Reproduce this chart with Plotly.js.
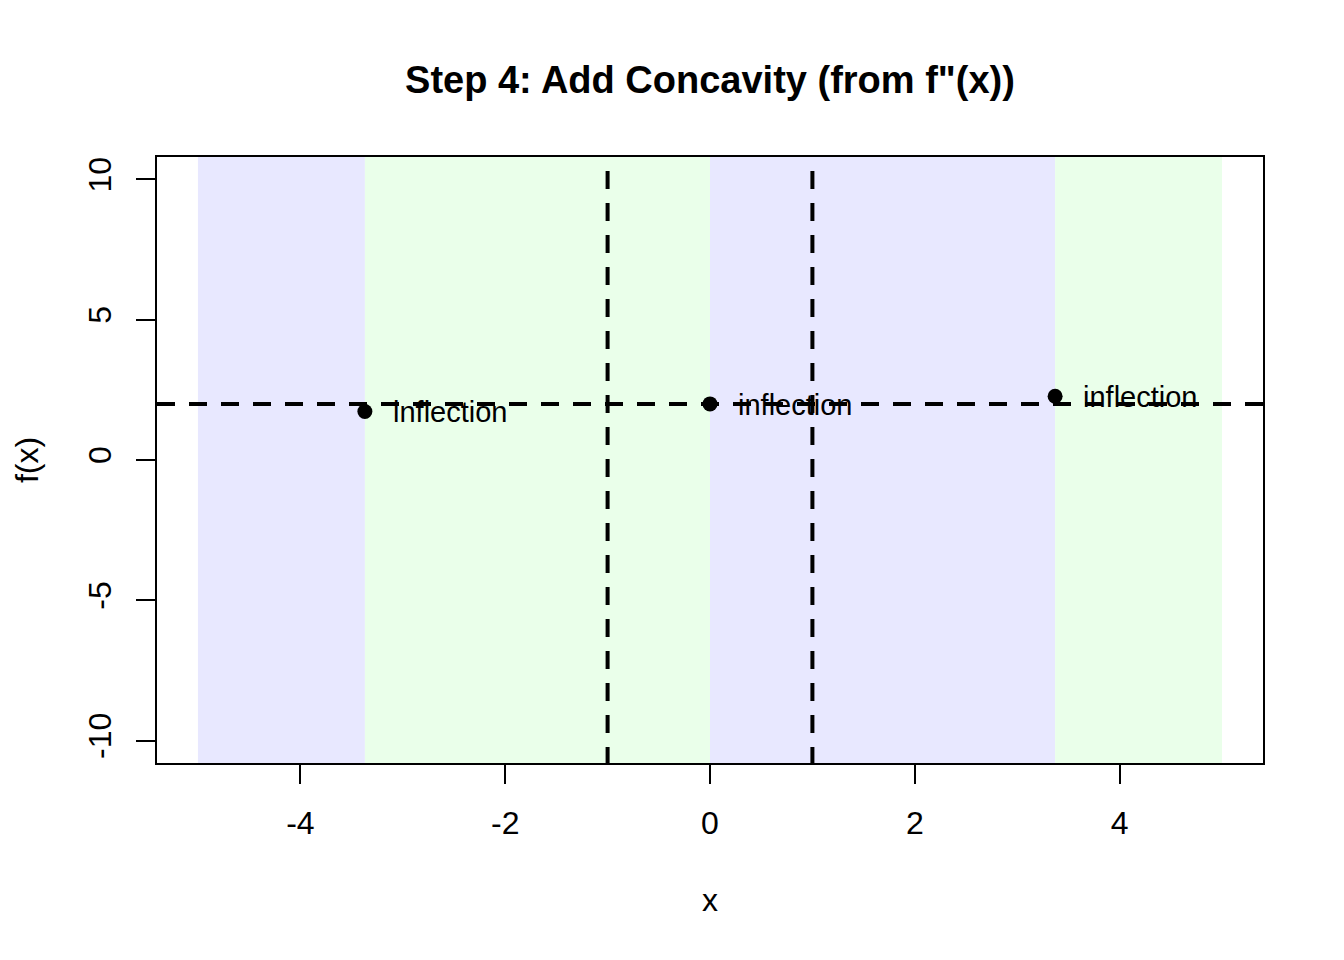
<!DOCTYPE html>
<html>
<head>
<meta charset="utf-8">
<script src="https://cdn.plot.ly/plotly-3.0.1.min.js"></script>
<style>html,body{margin:0;padding:0;background:#fff;}#chart{width:1344px;height:960px;}</style>
</head>
<body>
<div id="chart"></div>
<script>
// ---- data ----
const xTickVals = [-4, -2, 0, 2, 4];
const xTickText = ["-4", "-2", "0", "2", "4"];
const yTickVals = [-10, -5, 0, 5, 10];
const yTickText = ["-10", "-5", "0", "5", "10"];
const regionEdges = [-5, -3.37, 0, 3.37, 5];
const regionConcavity = ["down", "up", "down", "up"];
const inflectionX = [-3.37, 0, 3.37];
const inflectionY = [1.73, 2.0, 2.27];
const inflectionLabels = ["inflection", "inflection", "inflection"];
const verticalAsymptotes = [-1, 1];
const horizontalAsymptotes = [2];
const xRange = [-5.4, 5.4];
const yRange = [-10.8, 10.8];

// ---- styling ----
const FONT = "Liberation Sans, Arial, sans-serif";
const concColor = { down: "#E8E8FF", up: "#EAFFEA" };
const dashStyle = "18px,14px";

const shapes = [];
for (let i = 0; i < regionConcavity.length; i++) {
  shapes.push({
    type: "rect", xref: "x", yref: "paper",
    x0: regionEdges[i], x1: regionEdges[i + 1], y0: 0, y1: 1,
    fillcolor: concColor[regionConcavity[i]], line: { width: 0 }, layer: "below"
  });
}
verticalAsymptotes.forEach(v => shapes.push({
  type: "line", xref: "x", yref: "y", x0: v, x1: v, y0: 10.3, y1: yRange[0],
  line: { color: "black", width: 4, dash: dashStyle }, layer: "above"
}));
horizontalAsymptotes.forEach(h => shapes.push({
  type: "line", xref: "x", yref: "y", x0: xRange[0], x1: xRange[1], y0: h, y1: h,
  line: { color: "black", width: 4, dash: dashStyle }, layer: "above"
}));

const annotations = inflectionX.map((x, i) => ({
  x: x, y: inflectionY[i], xref: "x", yref: "y", text: inflectionLabels[i],
  showarrow: false, xanchor: "left", yanchor: "middle", xshift: 26, yshift: -1,
  font: { family: FONT, size: 29, color: "black" }
}));

const traces = [{
  type: "scatter", mode: "markers", x: inflectionX, y: inflectionY,
  marker: { color: "black", size: 15 }, hoverinfo: "skip", showlegend: false, cliponaxis: false
}];

const axisCommon = {
  showgrid: false, zeroline: false, showline: true, mirror: true,
  linecolor: "black", linewidth: 2, ticks: "outside", ticklen: 19, tickwidth: 2,
  tickcolor: "black", tickfont: { family: FONT, size: 32, color: "black" }, fixedrange: true
};

const layout = {
  width: 1344, height: 960,
  margin: { l: 157, r: 81, t: 157, b: 197, pad: 0 },
  paper_bgcolor: "white", plot_bgcolor: "white",
  font: { family: FONT, color: "black" },
  showlegend: false,
  title: {
    text: "Step 4: Add Concavity (from f\"(x))",
    font: { family: FONT, size: 38, weight: "bold", color: "black" },
    x: 0.5, xref: "paper", xanchor: "center",
    y: 1 - 80 / 960, yref: "container", yanchor: "middle"
  },
  xaxis: Object.assign({}, axisCommon, {
    range: xRange, tickmode: "array", tickvals: xTickVals, ticktext: xTickText,
    ticklabelstandoff: 12,
    title: { text: "x", font: { family: FONT, size: 32, color: "black" }, standoff: 48 },
    automargin: false
  }),
  yaxis: Object.assign({}, axisCommon, {
    range: yRange, tickmode: "array", tickvals: yTickVals, ticktext: yTickText,
    tickangle: -90, ticklabelstandoff: 12,
    title: { text: "f(x)", font: { family: FONT, size: 32, color: "black" }, standoff: 34 },
    automargin: false
  }),
  shapes: shapes,
  annotations: annotations
};

Plotly.newPlot("chart", traces, layout, { displayModeBar: false, staticPlot: true });
</script>
</body>
</html>
